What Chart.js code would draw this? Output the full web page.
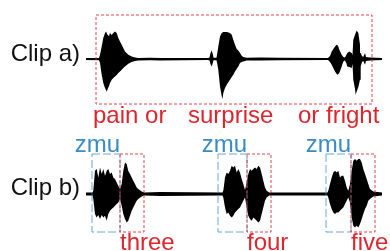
<!DOCTYPE html>
<html><head><meta charset="utf-8">
<script src="https://cdn.jsdelivr.net/npm/chart.js@4/dist/chart.umd.min.js"></script>
<style>html,body{margin:0;padding:0;background:#fff;}canvas{display:block;}</style>
</head><body>
<canvas id="c" width="390" height="251"></canvas>
<script>
// ---- Clip a) waveform envelope: time (frames), upper / lower amplitude ----
const clipATime  = [86,99,100,101.7,103.3,105,106,106.7,107.7,109,110,111.7,113.3,115,116.7,118.3,120,121.7,123.3,125,128.3,131.7,135,138.3,150,160,208,209.5,210.5,211.7,212.8,213.5,216.5,217.3,218.3,220,221.7,222.5,223.3,225,226.7,230,231.7,233.3,235,236.7,238.3,240,241.7,243.3,246.7,260,280,328,330,331.7,335,336.7,337.3,338.3,339.3,341.7,343.3,345,346.3,347.3,349.3,351.7,352.5,353.3,355,355.7,356.7,358.3,360,360.7,362,363.3,365,366,370,382];
const clipAUpper = [1,1,4.3,12.6,21,26,27.6,26,24,23,26,24,26,27.6,26,21,17.6,14.3,11,7.6,4.3,2.6,1.6,1,1.2,1,1,1.5,6,8.6,5,1.2,1.2,6,12.6,22.6,26,26.5,27,27,27,26,24.3,19.3,14.3,10,8.6,6,3.3,2,1.3,1.5,1.2,1,3,7.6,12.6,14.3,14,12.6,9.3,4.3,2,1.5,4,6,7.6,6,4,19.3,24.3,26,28.6,26,14.3,6,3,2,6,2,1.5,1];
const clipALower = [1,1.2,4,15.7,24,29,31,32.7,30,27,24,20.7,19,17.4,16,14,12.5,10.7,9,7.4,4.7,3,2,1.4,1.2,1.4,1,1.5,5,7.4,4,1.2,1.2,5,10.7,27.4,37,40,34,29,25.7,20.7,18,15.7,12.5,10,7.4,4,3,2.4,1.4,1.5,1.2,1,3,5.7,12.4,15,15.7,15,14,7.4,2.5,1.5,4,7.4,8,9,5,20.7,30,35.7,32.4,28,20.7,7.4,3,2,5.7,2,1.5,1];

// ---- Clip b) waveform envelope ----
const clipBTime  = [86,92.5,93.3,95,96.7,98.3,100,101.7,103.3,105,106.7,108.3,110,111.7,113.3,115,116.7,118.3,120,121.7,123.3,125,126.7,128.3,130,131.7,133.3,135,136.7,138.3,141.7,144.3,160,222.5,223.3,225,226.7,228.3,230,231.7,233.3,235,236.7,238.3,240,241.7,243.3,245,246.7,248.3,250,251.7,253.3,255,256.7,258.3,260,261.7,263.3,265,266.7,269.3,327.5,328.3,330,331.7,333.3,335,336.7,338.3,340,341.7,343.3,345,346.7,348.3,350,351.7,353.3,355,356.7,358.3,360,361.7,363.3,365,366.7,368.3,370,373.3,382];
const clipBUpper = [1.6,1.6,3.3,23.3,25,16.6,26.6,20,25,18.3,23.3,25,20,21.6,16.6,15,11.6,8.3,5,10,23.3,31.6,30,23,20,16.6,13.3,10,6.6,5,2.6,1.6,2,1.6,3.3,16.6,21.6,20,23.3,28.3,26.6,28.3,21.6,25,21.6,15,10,4,11.6,20,25,23.3,25,26.6,25,28.3,26.6,20,13.3,6.6,3.3,1.6,1.6,3.3,10,16.6,21.6,23.3,21.6,23.3,16.6,18.3,18.3,13.3,6.6,3.3,10,23.3,33.3,35,33.3,35,35,31.6,25,20,15,10,5,2.6,1.6];
const clipBLower = [1.6,1.6,5,20,23.4,21,25,21,23.4,21.7,26.7,20,16.7,15,13.4,11.7,10,8.4,5,11.7,20,25,28.4,26.7,21.7,16.7,13.4,10,6.7,5,2.6,1.6,2,1.6,3.4,13.4,20,18.4,21.7,23.4,21.7,18.4,16.7,15,13.4,10,6.7,3.4,13.4,21.7,25,26.7,23.4,25,26.7,28.4,26.7,20,13.4,6.7,3.4,1.6,1.6,3.4,10,15,18.4,20,18.4,18.4,16.7,15,13.4,10,6.7,3.4,8.4,23.4,31.7,33.4,31.7,33.4,30,25,20,15,11.7,6.7,5,2.6,1.6];

// ---- annotations (time spans) and labels ----
const clipLabels   = ["Clip a)", "Clip b)"];
const clipABox     = [96, 372];
const clipAWords   = ["pain or", "surprise", "or fright"];
const clipAWordT   = [93, 188, 298];
const clipBWords   = ["three", "four", "five"];
const clipBPrefix  = "zmu";
const clipBZmuSpan = [[92, 120], [218, 247], [326, 351]];
const clipBWordSpan= [[120, 144], [247, 271], [351, 375]];

const RED = '#dc252d', BLUE = '#3a8cc4';
const FONT = '24px "Liberation Sans", Arial, sans-serif';

function pts(t, v, s) { return t.map((x, i) => ({x: x, y: s * v[i]})); }

const annot = {
  id: 'annot',
  afterDatasetsDraw(chart) {
    const c = chart.ctx, X = chart.scales.x, A = chart.scales.ya, B = chart.scales.yb;
    c.save();
    c.font = FONT;
    c.textBaseline = 'alphabetic';
    // clip labels
    c.fillStyle = '#111';
    c.textAlign = 'right';
    c.fillText(clipLabels[0], X.getPixelForValue(86) - 6, A.getPixelForValue(0) + 1.5);
    c.fillText(clipLabels[1], X.getPixelForValue(86) - 6, B.getPixelForValue(0) + 0.5);
    // clip a box
    const ax0 = Math.round(X.getPixelForValue(clipABox[0])), ax1 = Math.round(X.getPixelForValue(clipABox[1]));
    const ay0 = Math.round(A.getPixelForValue(44)), ay1 = Math.round(A.getPixelForValue(-45));
    c.setLineDash([3, 2]); c.lineWidth = 1; c.strokeStyle = 'rgba(220,37,45,0.85)';
    c.strokeRect(ax0, ay0, ax1 - ax0, ay1 - ay0);
    c.fillStyle = RED; c.textAlign = 'left';
    clipAWords.forEach((w, i) => c.fillText(w, X.getPixelForValue(clipAWordT[i]), ay1 + 18.5));
    // clip b boxes
    const by0 = Math.round(B.getPixelForValue(40)), by1 = Math.round(B.getPixelForValue(-38));
    clipBZmuSpan.forEach((s, i) => {
      const x0 = Math.round(X.getPixelForValue(s[0])), x1 = Math.round(X.getPixelForValue(s[1]));
      c.setLineDash([8, 3]); c.strokeStyle = 'rgba(58,140,196,0.75)';
      c.strokeRect(x0, by0, x1 - x0, by1 - by0);
      c.fillStyle = BLUE; c.textAlign = 'right';
      c.fillText(clipBPrefix, x1, by0 - 2.5);
    });
    clipBWordSpan.forEach((s, i) => {
      const x0 = Math.round(X.getPixelForValue(s[0])), x1 = Math.round(X.getPixelForValue(s[1]));
      c.setLineDash([3, 2]); c.strokeStyle = 'rgba(220,37,45,0.85)';
      c.strokeRect(x0, by0, x1 - x0, by1 - by0);
      c.fillStyle = RED; c.textAlign = 'left';
      c.fillText(clipBWords[i], x0, by1 + 18);
    });
    c.restore();
  }
};

const base = {type: 'line', pointRadius: 0, borderWidth: 0, tension: 0, backgroundColor: '#000', borderColor: '#000'};

new Chart(document.getElementById('c'), {
  type: 'line',
  data: {
    datasets: [
      Object.assign({}, base, {data: pts(clipATime, clipAUpper, 1), yAxisID: 'ya', fill: false}),
      Object.assign({}, base, {data: pts(clipATime, clipALower, -1), yAxisID: 'ya', fill: '-1'}),
      Object.assign({}, base, {data: pts(clipBTime, clipBUpper, 1), yAxisID: 'yb', fill: false}),
      Object.assign({}, base, {data: pts(clipBTime, clipBLower, -1), yAxisID: 'yb', fill: '-1'})
    ]
  },
  options: {
    responsive: false, animation: false, devicePixelRatio: 1,
    layout: {padding: 0},
    plugins: {legend: {display: false}, tooltip: {enabled: false}},
    scales: {
      x:  {type: 'linear', min: 0, max: 390, display: false},
      ya: {type: 'linear', min: -192, max: 59, display: false},
      yb: {type: 'linear', min: -57, max: 194, display: false}
    }
  },
  plugins: [annot]
});
</script>
</body></html>
